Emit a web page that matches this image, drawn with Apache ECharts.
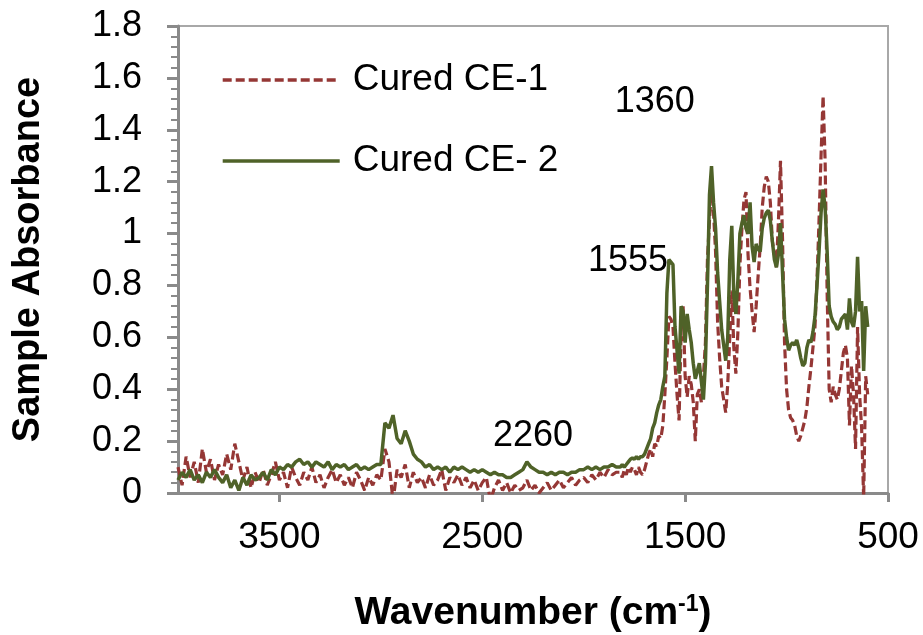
<!DOCTYPE html>
<html>
<head>
<meta charset="utf-8">
<script src="https://cdn.jsdelivr.net/npm/echarts@6/dist/echarts.min.js"></script>
<style>html,body{margin:0;padding:0;background:#fff}#c{width:923px;height:635px}</style>
</head>
<body>
<div id="c"></div>
<script>
// Wavenumbers (cm-1) of the sampled points
const wavenumber = [
  4000,3980,3960,3940,3920,3900,3880,3860,3840,3820,
  3800,3780,3760,3740,3720,3700,3680,3660,3640,3620,
  3600,3580,3560,3540,3520,3500,3480,3460,3440,3420,
  3400,3380,3360,3340,3320,3300,3280,3260,3240,3220,
  3200,3180,3160,3140,3120,3100,3080,3060,3040,3020,
  3000,2980,2960,2940,2920,2900,2880,2860,2840,2820,
  2800,2780,2760,2740,2720,2700,2680,2660,2640,2620,
  2600,2580,2560,2540,2520,2500,2480,2460,2440,2420,
  2400,2380,2360,2340,2320,2300,2280,2260,2240,2220,
  2200,2180,2160,2140,2120,2100,2080,2060,2040,2020,
  2000,1980,1960,1940,1920,1900,1880,1860,1840,
  1820,1810,1800,1790,1780,1770,1760,1750,1740,1730,
  1720,1710,1700,1690,1680,1670,1660,1650,1640,1630,
  1620,1610,1600,1590,1580,1570,1560,1550,1540,1530,
  1520,1510,1500,1490,1480,1470,1460,1450,1440,1430,
  1420,1410,1400,1390,1380,1370,1360,1350,1340,1330,
  1320,1310,1300,1290,1280,1270,1260,1250,1240,1230,
  1220,1210,1200,1190,1180,1170,1160,1150,1140,1130,
  1120,1110,1100,1090,1080,1070,1060,1050,1040,1030,
  1020,1010,1000,990,980,970,960,950,940,930,
  920,910,900,890,880,870,860,850,840,830,
  820,810,800,790,780,770,760,750,740,730,
  720,710,700,690,680,670,660,650,640,630,
  620,610,600
];

// Cured CE-1 absorbance (dashed red)
const ce1 = [
  0.10,0.03,0.14,0.06,0.12,0.04,0.17,0.08,0.13,0.05,
  0.11,0.07,0.15,0.09,0.19,0.12,0.05,0.10,0.02,0.08,
  0.04,0.09,0.03,0.07,0.12,0.05,0.08,0.02,0.10,0.06,
  0.03,0.08,0.05,0.10,0.04,0.07,0.02,0.06,0.09,0.04,
  0.07,0.03,0.06,0.02,0.08,0.05,0.01,0.06,0.03,0.07,
  0.05,0.17,0.12,-0.03,0.09,0.06,0.11,0.02,0.08,0.04,
  0.06,0.02,0.07,0.03,0.05,0.09,0.01,0.06,0.04,0.07,
  0.03,0.06,0.02,0.05,0.01,0.04,0.06,-0.03,0.02,0.05,
  0.01,0.04,0.00,0.03,0.01,0.02,0.05,0.01,0.03,0.00,
  0.02,0.04,0.01,0.03,0.05,0.02,0.04,0.06,0.03,0.05,
  0.06,0.04,0.07,0.05,0.08,0.06,0.09,0.07,0.08,
  0.08,0.06,0.09,0.07,0.10,0.08,0.10,0.09,0.07,0.10,
  0.08,0.07,0.09,0.12,0.15,0.17,0.14,0.19,0.18,0.22,
  0.21,0.26,0.38,0.52,0.68,0.67,0.64,0.50,0.38,0.28,
  0.62,0.72,0.45,0.37,0.45,0.42,0.35,0.20,0.38,0.40,
  0.35,0.45,0.58,0.90,1.05,1.18,1.08,0.93,0.66,0.52,
  0.41,0.36,0.31,0.42,0.60,0.78,0.56,0.46,0.62,0.88,
  1.02,1.13,1.16,0.92,0.79,0.70,0.62,0.72,0.84,0.95,
  1.10,1.18,1.22,1.20,1.12,0.97,0.92,0.87,1.05,1.28,
  0.98,0.58,0.40,0.32,0.29,0.28,0.26,0.22,0.20,0.22,
  0.25,0.28,0.33,0.41,0.48,0.56,0.64,0.82,1.05,1.30,
  1.53,1.28,0.77,0.40,0.35,0.41,0.38,0.36,0.40,0.47,
  0.54,0.57,0.52,0.26,0.49,0.38,0.17,0.64,0.38,0.25,
  -0.02,0.45,0.38
];

// Cured CE-2 absorbance (solid green)
const ce2 = [
  0.05,0.08,0.06,0.09,0.05,0.07,0.04,0.08,0.06,0.09,
  0.06,0.04,0.07,0.02,0.05,0.01,0.06,0.03,0.07,0.05,
  0.06,0.08,0.05,0.09,0.07,0.10,0.09,0.11,0.10,0.12,
  0.13,0.11,0.12,0.10,0.12,0.11,0.10,0.12,0.09,0.11,
  0.10,0.11,0.09,0.10,0.11,0.09,0.10,0.09,0.10,0.11,
  0.11,0.27,0.25,0.30,0.21,0.19,0.24,0.20,0.15,0.13,
  0.12,0.10,0.11,0.09,0.10,0.09,0.10,0.08,0.10,0.09,
  0.10,0.09,0.08,0.09,0.08,0.09,0.08,0.07,0.08,0.07,
  0.07,0.06,0.06,0.07,0.08,0.09,0.12,0.10,0.09,0.08,
  0.08,0.07,0.08,0.07,0.08,0.08,0.07,0.08,0.08,0.09,
  0.09,0.10,0.09,0.10,0.09,0.10,0.10,0.11,0.10,
  0.10,0.11,0.10,0.11,0.12,0.13,0.135,0.13,0.14,0.13,
  0.14,0.14,0.15,0.17,0.19,0.21,0.25,0.27,0.31,0.34,
  0.36,0.41,0.45,0.77,0.90,0.89,0.88,0.64,0.55,0.46,
  0.72,0.70,0.58,0.69,0.63,0.58,0.50,0.44,0.47,0.50,
  0.43,0.36,0.50,0.80,1.15,1.26,1.12,1.02,0.85,0.74,
  0.63,0.57,0.51,0.60,0.90,1.03,0.76,0.69,0.82,1.00,
  1.04,1.07,1.02,1.00,1.12,0.95,0.89,0.96,0.94,0.93,
  1.02,1.06,1.08,1.09,1.05,0.97,0.90,0.87,0.92,1.04,
  0.85,0.67,0.60,0.55,0.57,0.58,0.57,0.59,0.56,0.52,
  0.49,0.50,0.56,0.59,0.58,0.62,0.68,0.80,0.93,1.08,
  1.17,1.10,0.93,0.72,0.68,0.66,0.65,0.63,0.64,0.67,
  0.68,0.69,0.63,0.75,0.66,0.64,0.70,0.91,0.70,0.74,
  0.47,0.72,0.64
];

const seriesNames = ['Cured CE-1', 'Cured CE- 2'];
const xTickValues = [500, 1500, 2500, 3500];
const yTickValues = [0, 0.2, 0.4, 0.6, 0.8, 1, 1.2, 1.4, 1.6, 1.8];

// Peak annotations, placed in data coordinates
const annotationText = ['1360', '1555', '2260'];
const annotationWn = [1650, 1782, 2250];
const annotationAbs = [1.505, 0.895, 0.22];

const FONT = '"Liberation Sans", Arial, sans-serif';
const AXIS_GRAY = '#8a8a8a';

const chart = echarts.init(document.getElementById('c'), null, {renderer: 'canvas'});

const pairs = (ys) => wavenumber.map((w, i) => [w, ys[i]]);

chart.setOption({
  animation: false,
  backgroundColor: '#ffffff',
  textStyle: {fontFamily: FONT},
  grid: {
    left: 178, right: 35, top: 26, bottom: 142,
    containLabel: false, outerBoundsMode: 'none',
    show: true, borderColor: '#a8a8a8', borderWidth: 2, backgroundColor: 'transparent'
  },
  legend: {
    data: seriesNames,
    orient: 'vertical',
    left: 216, top: 55,
    itemWidth: 117, itemHeight: 20, itemGap: 41,
    itemStyle: {opacity: 0},
    lineStyle: {width: 3.4},
    textStyle: {fontSize: 37, color: '#000', fontFamily: FONT, padding: [0, 0, 0, 8], lineHeight: 40},
    selectedMode: false
  },
  xAxis: {
    type: 'value',
    inverse: true,
    min: 500, max: 4000, interval: 1000,
    name: 'Wavenumber (cm{sup|-1})',
    nameLocation: 'middle',
    nameGap: 100,
    nameTextStyle: {
      fontSize: 39, fontWeight: 'bold', color: '#000', fontFamily: FONT,
      rich: {sup: {fontSize: 23, fontWeight: 'bold', color: '#000', fontFamily: FONT, padding: [0, 0, 17, 0]}}
    },
    axisLine: {show: true, onZero: false, lineStyle: {color: AXIS_GRAY, width: 3}},
    axisTick: {show: true, length: 9, lineStyle: {color: AXIS_GRAY, width: 3},
      customValues: xTickValues},
    axisLabel: {fontSize: 37, color: '#000', margin: 26, fontFamily: FONT,
      customValues: xTickValues, formatter: (v) => String(v)},
    splitLine: {show: false}
  },
  yAxis: {
    type: 'value',
    min: 0, max: 1.8, interval: 0.2,
    name: 'Sample Absorbance',
    nameLocation: 'middle',
    nameGap: 130,
    nameTextStyle: {fontSize: 38, fontWeight: 'bold', color: '#000', fontFamily: FONT},
    axisLine: {show: true, lineStyle: {color: AXIS_GRAY, width: 3}},
    axisTick: {show: true, length: 11, lineStyle: {color: AXIS_GRAY, width: 3}},
    minorTick: {show: true, splitNumber: 5, length: 7, lineStyle: {color: AXIS_GRAY, width: 2}},
    axisLabel: {fontSize: 36, color: '#000', margin: 36, fontFamily: FONT,
      customValues: yTickValues, formatter: (v) => String(+v.toFixed(1))},
    splitLine: {show: false},
    minorSplitLine: {show: false}
  },
  series: [
    {
      name: seriesNames[0], type: 'line', data: pairs(ce1),
      symbol: 'none', clip: true, z: 3,
      lineStyle: {color: '#953735', width: 3.2, type: [9, 4]},
      itemStyle: {color: '#953735'}
    },
    {
      name: seriesNames[1], type: 'line', data: pairs(ce2),
      symbol: 'none', clip: true, z: 4,
      lineStyle: {color: '#4f6228', width: 3.5},
      itemStyle: {color: '#4f6228'}
    },
    {
      name: 'annotations', type: 'scatter', symbolSize: 0, silent: true, z: 5,
      data: annotationText.map((t, i) => ({name: t, value: [annotationWn[i], annotationAbs[i]]})),
      label: {show: true, position: 'inside', formatter: (p) => p.name,
        fontSize: 36, color: '#000', opacity: 1, fontFamily: FONT},
      itemStyle: {opacity: 1}
    }
  ]
});
</script>
</body>
</html>
